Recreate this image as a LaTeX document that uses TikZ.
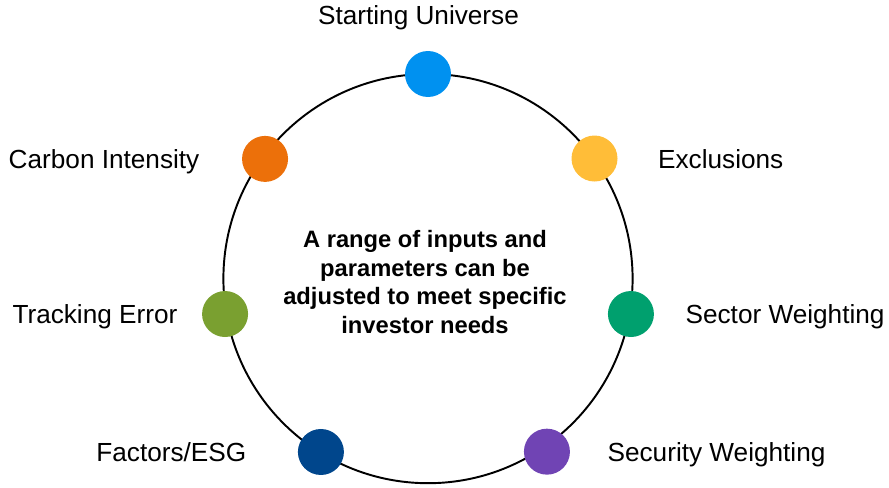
\documentclass[tikz,border=0pt]{standalone}
\usepackage{fontspec}
\setmainfont{Liberation Sans}
\usetikzlibrary{positioning}
\definecolor{cstart}{HTML}{0091F0}
\definecolor{cexcl}{HTML}{FFBD38}
\definecolor{csector}{HTML}{00A06E}
\definecolor{csecurity}{HTML}{7044B4}
\definecolor{cfactor}{HTML}{00468C}
\definecolor{ctrack}{HTML}{7AA030}
\definecolor{ccarbon}{HTML}{EC700A}
\begin{document}
\begin{tikzpicture}[x=0.02cm,y=0.02cm,
    dot/.style={circle,minimum size=0.92cm,inner sep=0pt},
    lbl/.style={inner sep=0pt,text height=0.716em,text depth=0pt,yshift=-0.07cm,
      font=\fontsize{14.9}{17.5}\selectfont}]
  \useasboundingbox (-428,-208.4) rectangle (461,278.6);
  \draw[line width=1.1pt] (0,0) circle (204.6);
  \draw
    (90:204.6) node[dot,fill=cstart] (start){}
    (35.8:205.3) node[dot,fill=cexcl] (excl){}
    (-9.9:206) node[dot,fill=csector] (sector){}
    (-55.5:210) node[dot,fill=csecurity] (security){}
    (-121.7:203.8) node[dot,fill=cfactor] (factor){}
    (189.9:206) node[dot,fill=ctrack] (track){}
    (143.7:202.2) node[dot,fill=ccarbon] (carbon){};
  \node[lbl,above=0.58cm of start,xshift=-0.19cm] (startlbl) {Starting Universe};
  \node[lbl,right=0.8cm of excl] (excllbl) {Exclusions};
  \node[lbl,right=0.62cm of sector] (sectorlbl) {Sector Weighting};
  \node[lbl,right=0.74cm of security] (securitylbl) {Security Weighting};
  \node[lbl,left=1.02cm of factor] (factorlbl) {Factors/ESG};
  \node[lbl,left=0.48cm of track] (tracklbl) {Tracking Error};
  \node[lbl,left=0.84cm of carbon] (carbonlbl) {Carbon Intensity};
  \node[font=\bfseries\fontsize{13.5}{16.2}\selectfont,align=center] (msg) at (-3,-3.4)
    {A range of inputs and\\parameters can be\\adjusted to meet specific\\investor needs};
\end{tikzpicture}
\end{document}
